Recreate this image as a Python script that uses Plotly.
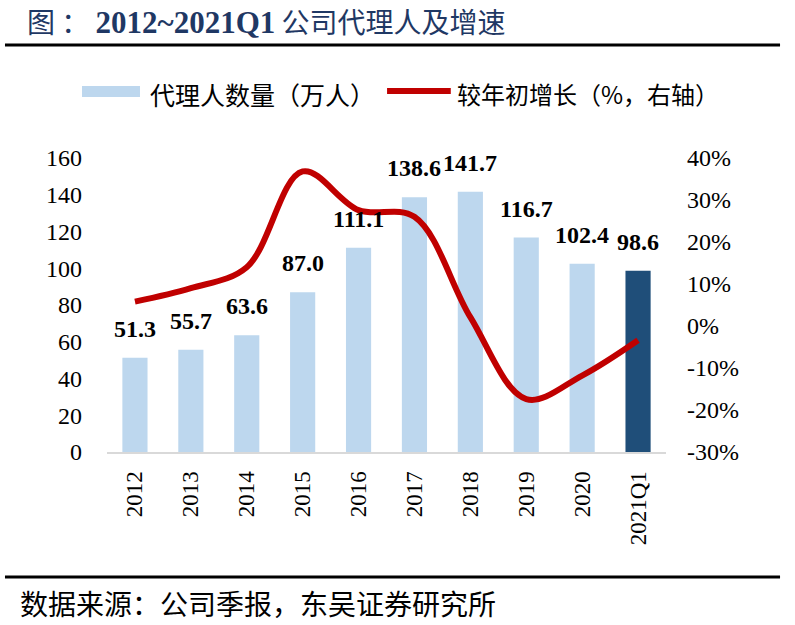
import plotly.graph_objects as go

categories = ["2012", "2013", "2014", "2015", "2016", "2017", "2018", "2019", "2020", "2021Q1"]
agents = [51.3, 55.7, 63.6, 87.0, 111.1, 138.6, 141.7, 116.7, 102.4, 98.6]
growth = [5.8, 9.0, 14.0, 36.8, 27.6, 26.0, 2.1, -17.4, -11.8, -3.4]
bar_colors = ["#BDD7EE"] * 9 + ["#1F4E79"]
bar_labels = [f"{v:.1f}" for v in agents]
left_ticks = [0, 20, 40, 60, 80, 100, 120, 140, 160]
right_ticks = [-30, -20, -10, 0, 10, 20, 30, 40]
right_tick_text = [f"{v}%" for v in right_ticks]
legend_names = ["代理人数量（万人）", "较年初增长（%，右轴）"]

serif = "Liberation Serif, Times New Roman, serif"
cjk = "Noto Sans CJK SC, sans-serif"

fig = go.Figure()
fig.add_trace(go.Bar(
    x=categories, y=agents, name=legend_names[0],
    marker=dict(color=bar_colors, line=dict(width=0)),
    width=0.45, showlegend=False,
))
fig.add_trace(go.Scatter(
    x=categories, y=growth, name=legend_names[1], yaxis="y2", showlegend=False,
    mode="lines", line=dict(color="#C00000", width=6, shape="spline", smoothing=1.0),
))

# value labels: on a category axis annotations use the category's serial index
for i, (v, t) in enumerate(zip(agents, bar_labels)):
    fig.add_annotation(x=i, y=v, text=f"<b>{t}</b>", showarrow=False, xref="x", yref="y",
                       yanchor="bottom", yshift=14,
                       font=dict(family=serif, size=24, color="black"))

fig.update_layout(
    width=795, height=625,
    margin=dict(l=107, r=129, t=158, b=173, autoexpand=False),
    paper_bgcolor="white", plot_bgcolor="white",
    showlegend=False,
    xaxis=dict(type="category", categoryorder="array", categoryarray=categories,
               range=[-0.5, len(categories) - 0.5],
               tickangle=-90, tickfont=dict(family=serif, size=23, color="black"),
               showline=True, linecolor="#D9D9D9", linewidth=2, ticks="",
               showgrid=False, ticklabelstandoff=8),
    yaxis=dict(range=[0, 160], tickmode="array", tickvals=left_ticks,
               tickfont=dict(family=serif, size=24, color="black"),
               showgrid=False, zeroline=False, showline=False, ticks="",
               ticklabelstandoff=24),
    yaxis2=dict(range=[-30, 40], tickmode="array", tickvals=right_ticks, ticktext=right_tick_text,
                overlaying="y", side="right",
                tickfont=dict(family=serif, size=24, color="black"),
                showgrid=False, zeroline=False, showline=False, ticks="",
                ticklabelstandoff=20),
)

# custom legend
fig.add_shape(type="rect", xref="paper", yref="paper", x0=-0.0447, x1=0.059, y0=1.2075, y1=1.245,
              fillcolor="#BDD7EE", line=dict(width=0))
fig.add_annotation(text=legend_names[0], xref="paper", yref="paper", x=0.0733, y=1.2177,
                   xanchor="left", yanchor="middle", showarrow=False,
                   font=dict(family=cjk, size=25, color="black"))
fig.add_shape(type="line", xref="paper", yref="paper", x0=0.501, x1=0.615, y0=1.228, y1=1.228,
              line=dict(color="#C00000", width=6))
fig.add_annotation(text=legend_names[1], xref="paper", yref="paper", x=0.6225, y=1.2177,
                   xanchor="left", yanchor="middle", showarrow=False,
                   font=dict(family=cjk, size=24, color="black"))

# title, rules, source
fig.add_annotation(
    text=("图 ： <b><span style='font-family:Liberation Serif, serif; font-size:31px'>2012~2021Q1</span></b> "
          "公司代理人及增速"),
    xref="paper", yref="paper", x=-0.147, y=1.466, xanchor="left", yanchor="middle",
    showarrow=False, font=dict(family=cjk, size=28, color="#1F3864"))
fig.add_shape(type="line", xref="paper", yref="paper", x0=-0.1825, x1=1.204, y0=1.384, y1=1.384,
              line=dict(color="black", width=3))
fig.add_shape(type="line", xref="paper", yref="paper", x0=-0.1825, x1=1.204, y0=-0.425, y1=-0.425,
              line=dict(color="black", width=3))
fig.add_annotation(text="数据来源：公司季报，东吴证券研究所", xref="paper", yref="paper",
                   x=-0.160, y=-0.515, xanchor="left", yanchor="middle", showarrow=False,
                   font=dict(family=cjk, size=28, color="black"))

fig.write_html("out.html", config={"displayModeBar": False},
               post_script="document.body.style.margin='0px';")
